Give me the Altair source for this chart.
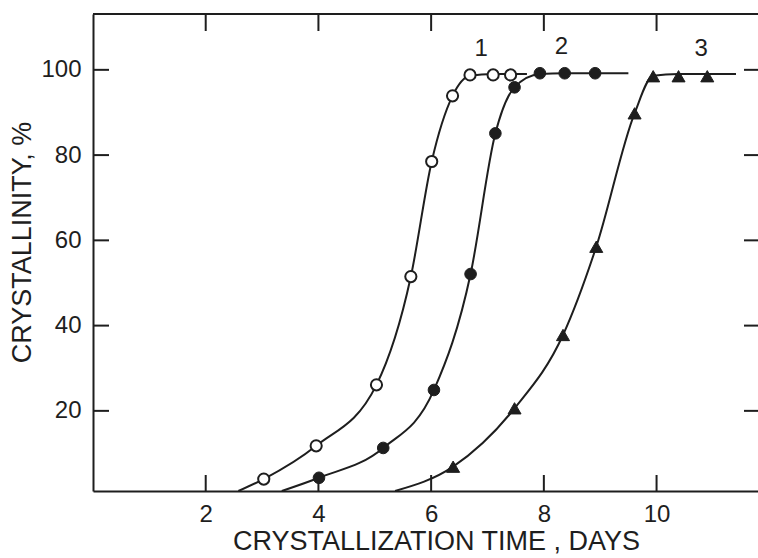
import altair as alt
import pandas as pd

# ---- data ----
c1_x = [3.03, 3.96, 5.03, 5.64, 6.01, 6.38, 6.69, 7.10, 7.41]
c1_y = [4.0, 11.8, 26.1, 51.5, 78.5, 93.9, 98.8, 98.8, 98.8]
c2_x = [4.01, 5.15, 6.05, 6.70, 7.14, 7.48, 7.93, 8.37, 8.91]
c2_y = [4.3, 11.3, 24.9, 52.1, 85.1, 95.9, 99.2, 99.2, 99.2]
c3_x = [6.39, 7.48, 8.34, 8.93, 9.61, 9.94, 10.39, 10.90]
c3_y = [6.9, 20.6, 37.8, 58.5, 89.8, 98.5, 98.5, 98.5]

# drawn curve paths
p1_x = [2.58, 3.03, 3.96, 5.03, 5.64, 6.01, 6.38, 6.69, 7.10, 7.41, 7.70]
p1_y = [1.2, 4.0, 11.8, 26.1, 51.5, 78.5, 93.9, 98.6, 99.0, 99.0, 99.0]
p2_x = [3.35, 4.01, 5.15, 6.05, 6.70, 7.14, 7.48, 7.93, 8.37, 8.91, 9.50]
p2_y = [1.2, 4.3, 11.3, 24.9, 52.1, 85.1, 95.9, 99.0, 99.2, 99.2, 99.2]
p3_x = [5.36, 6.39, 7.48, 8.34, 8.93, 9.61, 9.94, 10.39, 10.90, 11.41]
p3_y = [1.2, 6.9, 20.6, 37.8, 58.5, 89.8, 98.6, 99.0, 99.0, 99.0]

curve_labels = ["1", "2", "3"]
label_x = [6.89, 8.31, 10.79]
label_y = [104.9, 105.4, 104.9]

x_ticks = [2, 4, 6, 8, 10]
y_ticks = [20, 40, 60, 80, 100]

INK = "#1e1e1e"
W, H = 665, 477
X_DOM = [0, 11.8]
Y_DOM = [1.2, 113.1]
FONT = "Liberation Sans"

xs = alt.Scale(domain=X_DOM, nice=False, zero=False)
ys = alt.Scale(domain=Y_DOM, nice=False, zero=False)

paths = pd.DataFrame(
    [{"x": a, "y": b, "curve": "1"} for a, b in zip(p1_x, p1_y)]
    + [{"x": a, "y": b, "curve": "2"} for a, b in zip(p2_x, p2_y)]
    + [{"x": a, "y": b, "curve": "3"} for a, b in zip(p3_x, p3_y)]
)
d1 = pd.DataFrame({"x": c1_x, "y": c1_y})
d2 = pd.DataFrame({"x": c2_x, "y": c2_y})
d3 = pd.DataFrame({"x": c3_x, "y": c3_y})
lab = pd.DataFrame({"x": label_x, "y": label_y, "t": curve_labels})
xt = pd.DataFrame({"v": x_ticks})
yt = pd.DataFrame({"v": y_ticks})

x_axis = alt.Axis(
    values=x_ticks, format="d", tickSize=0, domain=True, domainColor=INK, domainWidth=2,
    grid=False, labelFont=FONT, labelFontSize=24, labelColor=INK, labelPadding=11,
    title="CRYSTALLIZATION TIME , DAYS", titleFont=FONT, titleFontSize=27,
    titleFontWeight="normal", titleColor=INK, titleX=343, titleY=50,
    titleBaseline="middle",
)
y_axis = alt.Axis(
    values=y_ticks, format="d", tickSize=0, domain=True, domainColor=INK, domainWidth=2,
    grid=False, labelFont=FONT, labelFontSize=24, labelColor=INK, labelPadding=12,
    title="CRYSTALLINITY, %", titleFont=FONT, titleFontSize=27,
    titleFontWeight="normal", titleColor=INK, titleX=-71, titleY=228,
    titleBaseline="middle", titleAngle=-90,
)

lines = alt.Chart(paths).mark_line(
    interpolate="monotone", color=INK, strokeWidth=2
).encode(
    x=alt.X("x:Q", scale=xs, axis=x_axis),
    y=alt.Y("y:Q", scale=ys, axis=y_axis),
    detail="curve:N",
)

pts1 = alt.Chart(d1).mark_point(
    shape="circle", filled=True, fill="white", stroke=INK, strokeWidth=2, size=125, opacity=1
).encode(x=alt.X("x:Q", scale=xs), y=alt.Y("y:Q", scale=ys))

pts2 = alt.Chart(d2).mark_point(
    shape="circle", filled=True, fill=INK, stroke=INK, strokeWidth=1, size=135, opacity=1
).encode(x=alt.X("x:Q", scale=xs), y=alt.Y("y:Q", scale=ys))

pts3 = alt.Chart(d3).mark_point(
    shape="triangle-up", filled=True, fill=INK, stroke=INK, strokeWidth=1, size=170, opacity=1
).encode(x=alt.X("x:Q", scale=xs), y=alt.Y("y:Q", scale=ys))

labels = alt.Chart(lab).mark_text(
    font=FONT, fontSize=24, color=INK, baseline="middle", align="center"
).encode(x=alt.X("x:Q", scale=xs), y=alt.Y("y:Q", scale=ys), text="t:N")

# frame top line
top_line = alt.Chart(xt).mark_rule(color=INK, strokeWidth=2).encode(
    x=alt.value(0), x2=alt.value(W), y=alt.value(0)
)
# inward ticks
bot_ticks = alt.Chart(xt).mark_rule(color=INK, strokeWidth=2).encode(
    x=alt.X("v:Q", scale=xs), y=alt.value(H), y2=alt.value(H - 16)
)
top_ticks = alt.Chart(xt).mark_rule(color=INK, strokeWidth=2).encode(
    x=alt.X("v:Q", scale=xs), y=alt.value(0), y2=alt.value(17)
)
left_ticks = alt.Chart(yt).mark_rule(color=INK, strokeWidth=2).encode(
    y=alt.Y("v:Q", scale=ys), x=alt.value(0), x2=alt.value(16)
)
right_ticks = alt.Chart(yt).mark_rule(color=INK, strokeWidth=2).encode(
    y=alt.Y("v:Q", scale=ys), x=alt.value(W - 14), x2=alt.value(W)
)

chart = alt.layer(
    lines, top_line, bot_ticks, top_ticks, left_ticks, right_ticks,
    pts1, pts2, pts3, labels
).properties(
    width=W, height=H,
    autosize=alt.AutoSizeParams(type="none"),
    padding={"left": 93, "top": 14, "right": 0, "bottom": 67},
    background="white",
).configure_view(stroke=None)

chart.save("out.html", embed_options={"renderer": "svg", "actions": False})
